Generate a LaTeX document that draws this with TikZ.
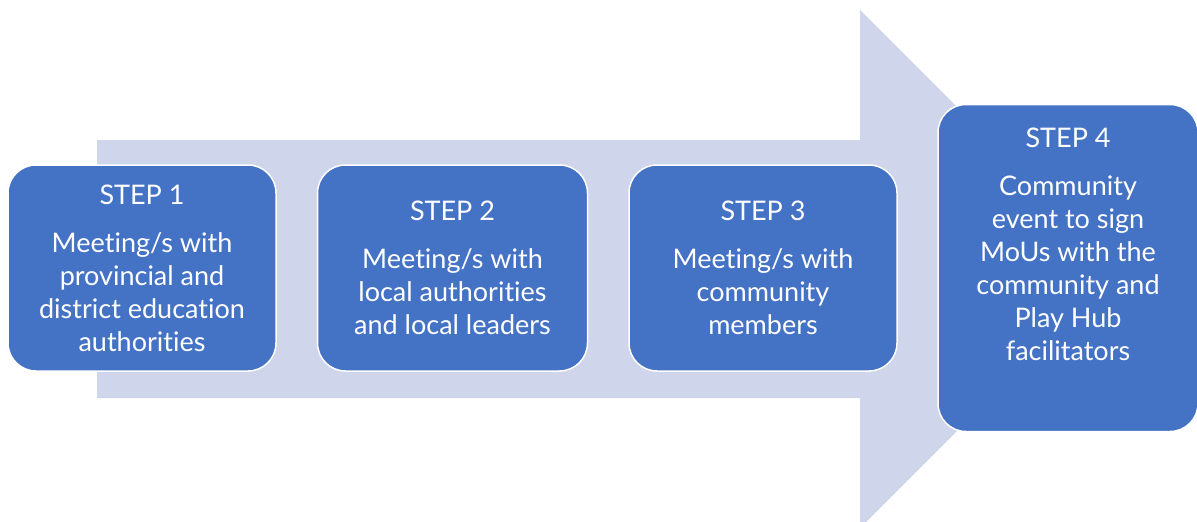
\documentclass[tikz,border=0pt]{standalone}
\usepackage{fontspec}
\setmainfont{Lato}[Ligatures=NoCommon]
\usetikzlibrary{positioning}

\definecolor{stepblue}{HTML}{4472C4}
\definecolor{arrowfill}{HTML}{CFD5EA}

\tikzset{
  stepbox/.style={draw=white, line width=1.5pt, fill=stepblue, rounded corners=28pt,
    text=white, align=center, inner sep=0pt, font=\fontsize{27}{33}\selectfont},
  steptext/.style={text=white, align=center, inner sep=0pt, font=\fontsize{27}{33}\selectfont},
}

\begin{document}
\begin{tikzpicture}[x=1pt, y=-1pt]
    \clip (0,0) rectangle (1197,522);

    % the wide arrow behind the steps
    \fill [arrowfill] (97,140) -- (860,140) -- (860,10) -- (1119,269)
      -- (860,528) -- (860,398) -- (97,398) -- cycle;

    \node [stepbox, minimum width=268pt, minimum height=206pt] (step1) at (142,268)
      {STEP 1\\[15pt]Meeting/s with\\provincial and\\district education\\authorities};
    \node [stepbox, minimum width=270pt, minimum height=206pt, right=40pt of step1] (step2)
      {STEP 2\\[15pt]Meeting/s with\\local authorities\\and local leaders};
    \node [stepbox, minimum width=268pt, minimum height=206pt, right=40pt of step2] (step3)
      {STEP 3\\[15pt]Meeting/s with\\community\\members};

    \node [stepbox, minimum width=260pt, minimum height=327pt] (step4) at (1068,268) {};
    \node [steptext, below=24pt of step4.north] (step4text)
      {STEP 4\\[15pt]Community\\event to sign\\MoUs with the\\community and\\Play Hub\\facilitators};
  \end{tikzpicture}
\end{document}
